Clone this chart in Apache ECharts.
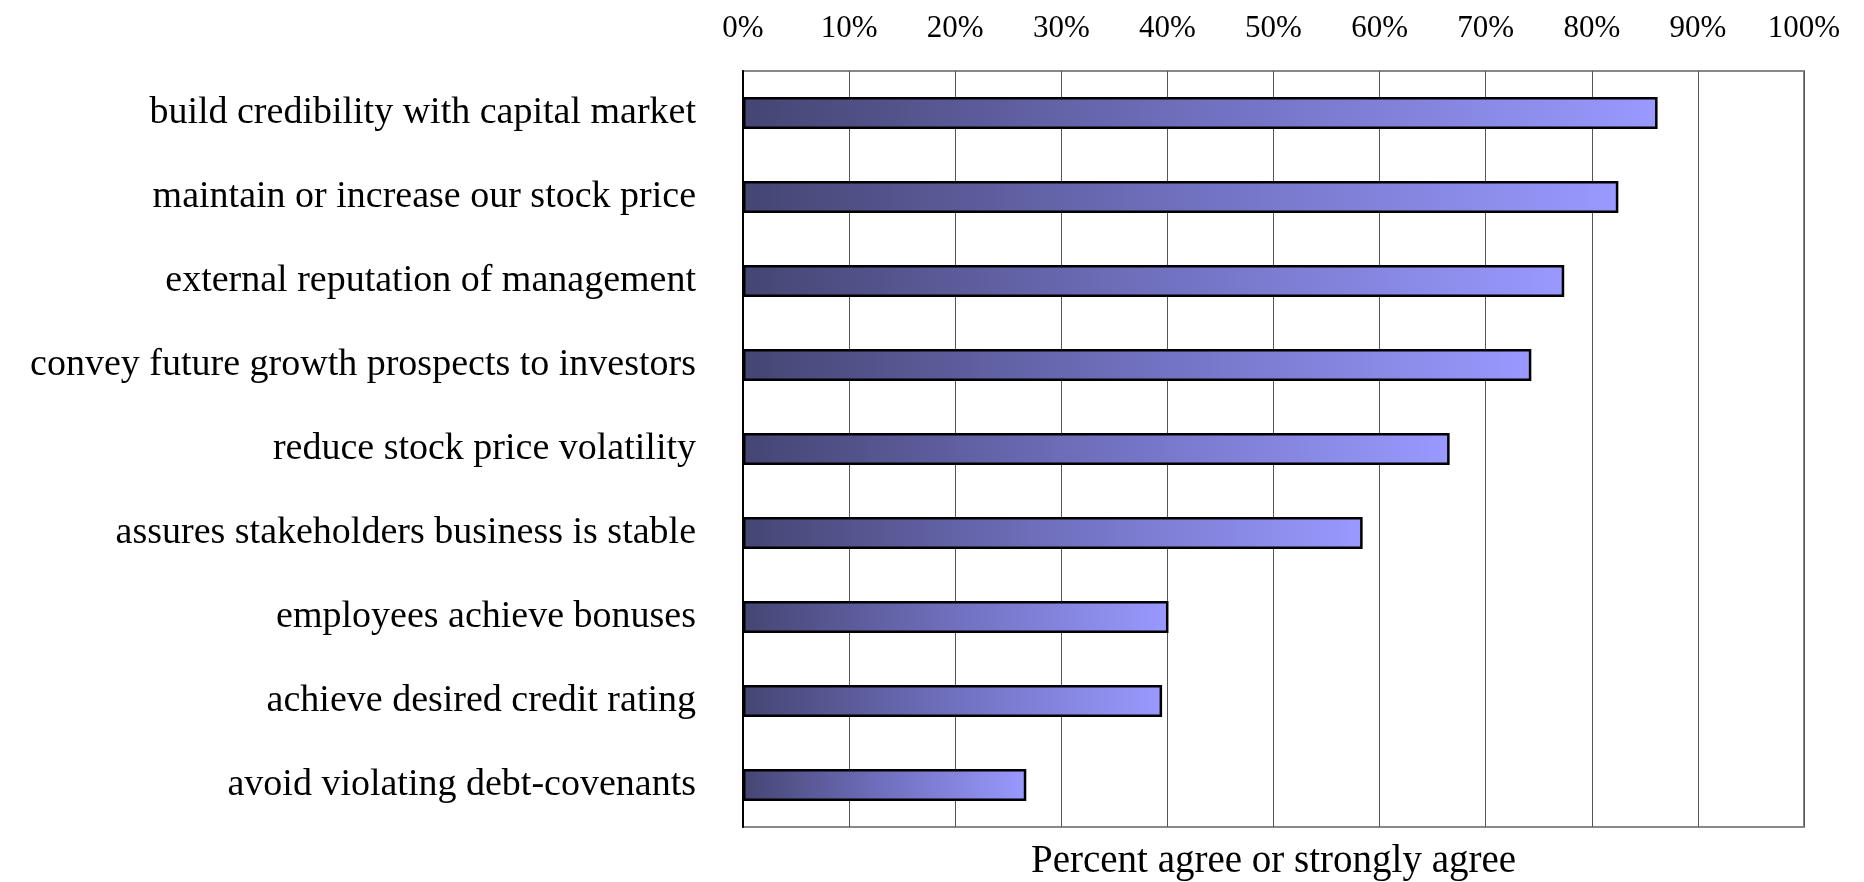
<!DOCTYPE html>
<html>
<head>
<meta charset="utf-8">
<title>Percent agree or strongly agree</title>
<script src="https://cdn.jsdelivr.net/npm/echarts@6/dist/echarts.min.js"></script>
<style>
  html, body { margin: 0; padding: 0; background: #fff; }
  #chart { width: 1864px; height: 882px; }
</style>
</head>
<body>
<div id="chart"></div>
<script>
// categories, top to bottom
var reasons = [
  'build credibility with capital market',
  'maintain or increase our stock price',
  'external reputation of management',
  'convey future growth prospects to investors',
  'reduce stock price volatility',
  'assures stakeholders business is stable',
  'employees achieve bonuses',
  'achieve desired credit rating',
  'avoid violating debt-covenants'
];
// percent agree or strongly agree
var agreePct = [86.2, 82.5, 77.4, 74.3, 66.6, 58.4, 40.1, 39.5, 26.7];
var axisTitle = 'Percent agree or strongly agree';

var serif = "'Liberation Serif', 'Times New Roman', serif";

var chart = echarts.init(document.getElementById('chart'));
chart.setOption({
  animation: false,
  backgroundColor: '#fff',
  grid: {
    left: 743,
    right: 60,
    top: 71,
    bottom: 55,
    outerBoundsMode: 'none',
    show: true,
    borderColor: '#888',
    borderWidth: 2
  },
  xAxis: [
    {                                   // percent scale on top
      type: 'value',
      position: 'top',
      min: 0,
      max: 100,
      interval: 10,
      axisLine: { show: false },
      axisTick: { show: false },
      axisLabel: {
        formatter: '{value}%',
        color: '#000',
        fontFamily: serif,
        fontSize: 31,
        margin: 27
      },
      splitLine: {
        show: true,
        lineStyle: { color: '#555', width: 1 }
      }
    },
    {                                   // only carries the title underneath
      type: 'value',
      position: 'bottom',
      min: 0,
      max: 100,
      axisLine: { show: false },
      axisTick: { show: false },
      axisLabel: { show: false },
      splitLine: { show: false },
      name: axisTitle,
      nameLocation: 'middle',
      nameGap: 15,
      nameTextStyle: {
        color: '#000',
        fontFamily: serif,
        fontSize: 39,
        verticalAlign: 'top'
      }
    }
  ],
  yAxis: {
    type: 'category',
    inverse: true,
    data: reasons,
    axisLine: { lineStyle: { color: '#000', width: 2 } },
    axisTick: { show: false },
    axisLabel: {
      color: '#000',
      fontFamily: serif,
      fontSize: 38,
      margin: 47
    }
  },
  series: [
    {
      type: 'bar',
      xAxisIndex: 0,
      data: agreePct,
      barWidth: 32,
      itemStyle: {
        color: new echarts.graphic.LinearGradient(0, 0, 1, 0, [
          { offset: 0, color: '#454573' },
          { offset: 0.5, color: '#7070bf' },
          { offset: 1, color: '#9999ff' }
        ]),
        borderColor: '#000',
        borderWidth: 2.5
      }
    }
  ]
});
</script>
</body>
</html>
